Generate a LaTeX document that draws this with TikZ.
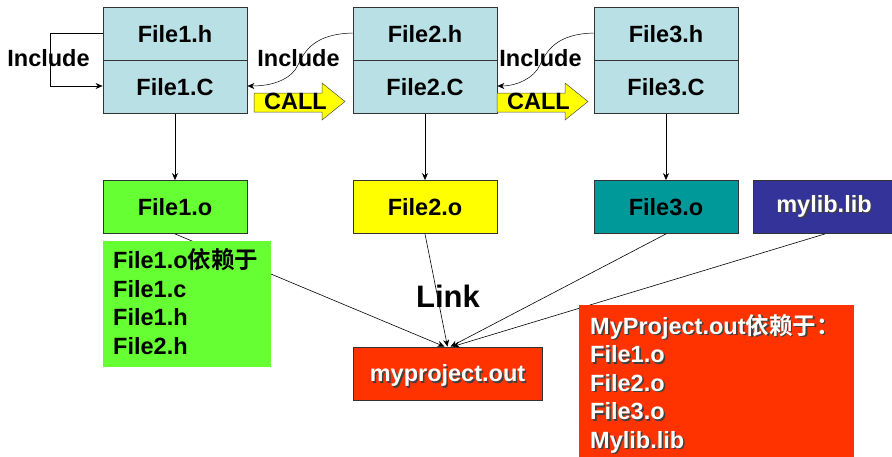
\documentclass[tikz,border=0pt]{standalone}
\usepackage{fontspec}
\setmainfont{Liberation Sans}
\newfontfamily\cjk{Noto Sans CJK SC}[BoldFont={Noto Sans CJK SC Bold}]
\usetikzlibrary{arrows.meta}
\definecolor{srcblue}{HTML}{B9E0E4}
\definecolor{objgreen}{HTML}{66FF33}
\definecolor{objyellow}{HTML}{FFFF00}
\definecolor{objteal}{HTML}{009999}
\definecolor{libblue}{HTML}{333399}
\definecolor{outred}{HTML}{FF3300}
\newcommand{\dep}{{\cjk\bfseries 依赖于}}
% white text with a dark drop shadow
\newcommand{\shd}[1]{\makebox[0pt][l]{\hspace{1.6pt}\raisebox{-1.6pt}{\color{black!75}#1}}#1}
\tikzset{
  base/.style={font=\fontsize{23.5}{26}\selectfont\bfseries},
  filebox/.style={base, draw=black!80, line width=0.8pt, minimum width=144, minimum height=53, inner sep=0pt},
  srcbox/.style={filebox, fill=srcblue},
  note/.style={align=left, anchor=north west, inner sep=0pt, font=\fontsize{23.5}{28.5}\selectfont\bfseries},
  lbl/.style={base, inner sep=0pt},
  conn/.style={-{Stealth[length=7pt,width=6pt]}, line width=0.6pt},
  callarrow/.style={draw=black!70, fill=objyellow, line width=0.5pt},
}
\begin{document}
\begin{tikzpicture}[x=1pt,y=-1pt]
\useasboundingbox (0,0) rectangle (892,456);
\clip (0,0) rectangle (892,456);

% source files: header above implementation
\foreach \i/\x in {1/175, 2/425, 3/666}{
  \node[srcbox] (h\i) at (\x,34) {File\i.h};
  \node[srcbox] (c\i) at (\x,87) {File\i.C};
}

% object files and library
\node[filebox, fill=objgreen]  (o1) at (175,207) {File1.o};
\node[filebox, fill=objyellow] (o2) at (425,207) {File2.o};
\node[filebox, fill=objteal]   (o3) at (666,207) {File3.o};
\node[filebox, fill=libblue, minimum width=142, text=white] (lib) at (824,207) {\shd{mylib.lib}};

% linked output
\node[filebox, fill=outred, minimum width=189, text=white] (out) at (447.5,373.5)
  {\raisebox{-3pt}[\height][\depth]{\shd{myproject.out}}};
\coordinate (in) at (out.north);

% compile steps
\foreach \i in {1,2,3}{ \draw[conn] (c\i) -- (o\i); }

% link steps
\draw[conn] (o1.south) -- ([xshift=-3]in);
\draw[conn] (o2.south) -- (in);
\draw[conn] (o3.south) -- ([xshift=3]in);
\draw[conn] ([xshift=1]lib.south) -- ([xshift=5]in);
\node[lbl, font=\fontsize{31}{34}\selectfont\bfseries] (link) at (448,296) {Link};

% include relations
\coordinate (loop1) at (50,33);
\coordinate (loop2) at (50,86);
\draw[line width=0.6pt] (h1.west |- 0,33) -- (loop1) -- (loop2);
\draw[conn] (loop2) -- (c1.west |- 0,86);
\node[lbl] (inc1) at (48.5,58) {Include};
\node[lbl] (inc2) at (298.5,58) {Include};
\node[lbl] (inc3) at (540.5,58) {Include};
\draw[conn, line width=0.5pt] (h2.west |- 0,33) .. controls (315,34) and (305,50) .. (298,65)
  .. controls (292,78) and (275,86) .. (c1.east |- 0,86);
\draw[conn, line width=0.5pt] (h3.west |- 0,33) .. controls (557,34) and (547,50) .. (540,65)
  .. controls (534,78) and (517,86) .. (c2.east |- 0,86);

% call relations: block arrows with their labels
\foreach \s/\n in {254/1, 497/2}{
  \draw[callarrow] (\s,93) -- ++(68,0) -- ++(0,-10) -- ++(23,18.5) -- ++(-23,18.5)
    -- ++(0,-8) -- ++(-68,0) -- cycle;
  \node[lbl, anchor=west] (call\n) at (\s+10,101.5) {CALL};
}

% dependency notes
\node[fill=objgreen, minimum width=168, minimum height=126, anchor=north west, inner sep=0pt] (n1) at (103,241) {};
\node[note] (t1) at (113,248.5) {File1.o\dep\\File1.c\\File1.h\\File2.h};

\node[fill=outred, minimum width=275, minimum height=155, anchor=north west, inner sep=0pt] (n2) at (579,305) {};
\node[note, text=white] (t2) at (590,314) {\shd{MyProject.out\dep{\cjk\bfseries ：}}\\\shd{File1.o}\\\shd{File2.o}\\\shd{File3.o}\\\shd{Mylib.lib}};
\end{tikzpicture}
\end{document}
